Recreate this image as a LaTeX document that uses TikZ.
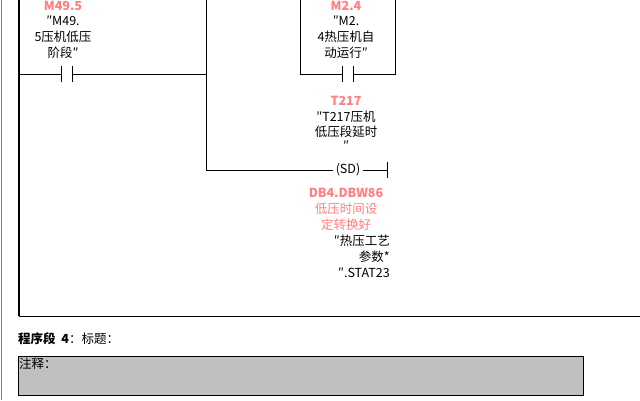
\documentclass[tikz,border=0pt]{standalone}
\usepackage{fontspec}
\setmainfont{Noto Sans CJK SC}
\begin{document}
\begin{tikzpicture}[x=1pt,y=-1pt,
  wire/.style={line width=1pt},
  lbl/.style={inner sep=0pt,font=\fontsize{12.5}{14}\selectfont},
  red/.style={lbl,text={rgb,255:red,255;green,128;blue,128}},
  blk/.style={lbl,text=black}]
\useasboundingbox (0,0) rectangle (640,400);
\draw[gray,line width=1pt] (1,0) -- (1,400);
\coordinate (railT) at (19,0); \coordinate (railB) at (19,316);
\draw[line width=2pt] (railT) -- (railB);
\coordinate (bot) at (640,316);
\draw[wire] (railB) -- (bot);
% rung 1
\coordinate (r1) at (19,74); \coordinate (c1a) at (61,74); \coordinate (c1b) at (72,74);
\coordinate (j) at (206,74);
\draw[wire] (r1) -- (c1a) (c1b) -- (j);
\draw[wire] (61,66) -- (61,82) (72,66) -- (72,82);
\coordinate (jt) at (206,0); \coordinate (jb) at (206,170);
\draw[wire] (jt) -- (jb);
% coil
\coordinate (s1) at (333,170); \coordinate (s2) at (363,170); \coordinate (e) at (387,170);
\draw[wire] (jb) -- (s1) (s2) -- (e);
\draw[wire] (387,162) -- (387,178);
\node[blk] (sd) at (348,170) {(SD)};
% branch
\draw[wire] (300,0) -- (300,74) -- (342,74);
\draw[wire] (353,74) -- (395,74) -- (395,0);
\draw[wire] (342,66) -- (342,82) (353,66) -- (353,82);
% labels
\node[red,font=\fontsize{12.5}{14}\bfseries] (a0) at (63,6) {M49.5};
\node[blk] (a1) at (63,21) {″M49.};
\node[blk] (a2) at (63,37) {5压机低压};
\node[blk] (a3) at (63,53) {阶段″};
\node[red,font=\fontsize{12.5}{14}\bfseries] (b0) at (346,6) {M2.4};
\node[blk] (b1) at (346,21) {″M2.};
\node[blk] (b2) at (346,37) {4热压机自};
\node[blk] (b3) at (346,53) {动运行″};
\node[red,font=\fontsize{12.5}{14}\bfseries] (t0) at (346,101) {T217};
\node[blk] (t1) at (346,117) {″T217压机};
\node[blk] (t2) at (346,132) {低压段延时};
\node[blk] (t3) at (346,146) {″};
\node[red,font=\fontsize{12.5}{14}\bfseries] (d0) at (346,193) {DB4.DBW86};
\node[red] (d1) at (346,209) {低压时间设};
\node[red] (d2) at (346,225) {定转换好};
\node[blk,anchor=east] (d3) at (390,241) {″热压工艺};
\node[blk,anchor=east] (d4) at (390,257) {参数*};
\node[blk,anchor=east] (d5) at (390,273) {″.STAT23};
\node[blk,anchor=west] (h) at (18,339) {\textbf{程序段\ \ 4}：标题：};
\node[draw,fill={rgb,255:red,192;green,192;blue,192},minimum width=565pt,minimum height=39pt,anchor=north west,inner sep=0pt] (cm) at (18,356) {};
\node[blk,anchor=north west] (cmt) at (19,358) {注释：};
\end{tikzpicture}
\end{document}
